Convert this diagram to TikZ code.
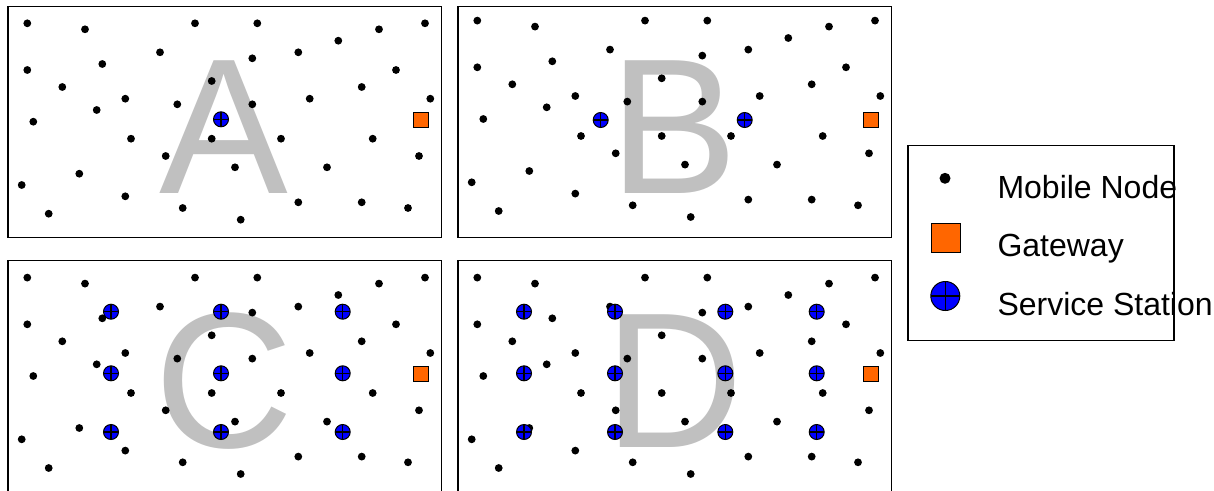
\documentclass[tikz,border=0pt]{standalone}
\usepackage{fontspec}
\setmainfont{Liberation Sans}
\definecolor{lettergray}{HTML}{C0C0C0}
\definecolor{ssblue}{HTML}{0000FF}
\definecolor{gworange}{HTML}{FF6600}
\tikzset{
  mn/.style={circle, fill=black, inner sep=0pt, minimum size=7.8pt},
  gw/.style={rectangle, draw=black, line width=0.9pt, fill=gworange, inner sep=0pt, minimum size=15pt},
  ss/.style={circle, draw=black, line width=1pt, fill=ssblue, inner sep=0pt, minimum size=15pt},
  sscross/.style={draw=black, line width=1.4pt, line cap=butt},
  panelframe/.style={draw=black, line width=1.3pt, rectangle, inner sep=0pt, anchor=north west,
    minimum width=433.4pt, minimum height=231pt},
  letter/.style={text=lettergray, font=\fontsize{193}{193}\selectfont, inner sep=0pt, anchor=base},
  legtext/.style={font=\fontsize{32}{32}\selectfont, inner sep=0pt, anchor=base west},
}
\def\mndots{20/17.6, 77.7/23.6, 187.7/17.6, 250/17.6, 371.7/23.6, 417.7/17.6, 331/35, 152.7/46.6,
  291/46.6, 245/52.6, 20/64.3, 95/58.3, 388.7/64.3, 204.4/75.3, 55/81.3, 354.4/81.3, 118/93,
  302.4/93, 423/93, 170/98.6, 245/98.6, 89.4/104.3, 26/116, 123.7/133, 204.4/133, 273.7/133,
  365.4/133, 158.4/150.3, 411.7/150.3, 227.7/161.6, 319.7/161.6, 72/168, 14.4/179.3, 118/190.6,
  291/196.6, 354.4/196.6, 175.4/202.3, 400.7/202.3, 41.4/208, 233.4/214}
\begin{document}
\begin{tikzpicture}[x=1pt, y=-1pt]
\useasboundingbox (0,0) rectangle (1214,490);
\clip (0,0) rectangle (1214,490);
\fill[white] (0,0) rectangle (1214,490);
\foreach \px/\py/\dy/\pn in {7.3/5.7/0/A, 457.3/5.7/-2.7/B, 7.3/260/0/C, 457.3/260/0/D}{
  \node[panelframe] (\pn-frame) at (\px,\py) {};
  \node[letter] (\pn-letter) at (\px+216.7,\py+187.3) {\pn};
  \foreach \x/\y [count=\i] in \mndots {
    \node[mn] (\pn-m\i) at (\px+\x,\py+\y+\dy) {};
  }
  \node[gw] (\pn-gw) at (\px+414,\py+114.3) {};
}
% service stations
\node[ss] (A-s1) at (221,119.3) {};
\node[ss] (B-s1) at (600.7,120) {};
\node[ss] (B-s2) at (744.7,120) {};
\foreach \x [count=\i] in {111,221,342.7}{
  \foreach \y [count=\j] in {311.7,373.3,432}{
    \node[ss] (C-s\i\j) at (\x,\y) {};
  }
}
\foreach \x [count=\i] in {524,615,725.3,816.7}{
  \foreach \y [count=\j] in {311.7,373.3,432}{
    \node[ss] (D-s\i\j) at (\x,\y) {};
  }
}
% legend
\node[draw=black, line width=1.3pt, rectangle, inner sep=0pt, anchor=north west,
  minimum width=266pt, minimum height=195pt] (legend) at (907.3,145) {};
\node[mn, minimum size=11pt] (leg-mn) at (945,178.3) {};
\node[gw, minimum size=29pt] (leg-gw) at (945.5,237.8) {};
\node[ss, minimum size=29pt] (leg-ss) at (945.3,296) {};
\node[legtext] (leg-t1) at (997.3,198.3) {Mobile Node};
\node[legtext] (leg-t2) at (997.3,256.7) {Gateway};
\node[legtext] (leg-t3) at (997.3,315) {Service Station};
% crosses of the service stations
\foreach \n/\r in {A-s1/7.5, B-s1/7.5, B-s2/7.5, C-s11/7.5, C-s12/7.5, C-s13/7.5, C-s21/7.5,
  C-s22/7.5, C-s23/7.5, C-s31/7.5, C-s32/7.5, C-s33/7.5, D-s11/7.5, D-s12/7.5, D-s13/7.5,
  D-s21/7.5, D-s22/7.5, D-s23/7.5, D-s31/7.5, D-s32/7.5, D-s33/7.5, D-s41/7.5, D-s42/7.5,
  D-s43/7.5, leg-ss/14.5}{
  \draw[sscross] (\n.center) +(0,-\r) -- +(0,\r);
  \draw[sscross] (\n.center) +(-\r,0) -- +(\r,0);
}
\end{tikzpicture}
\end{document}
